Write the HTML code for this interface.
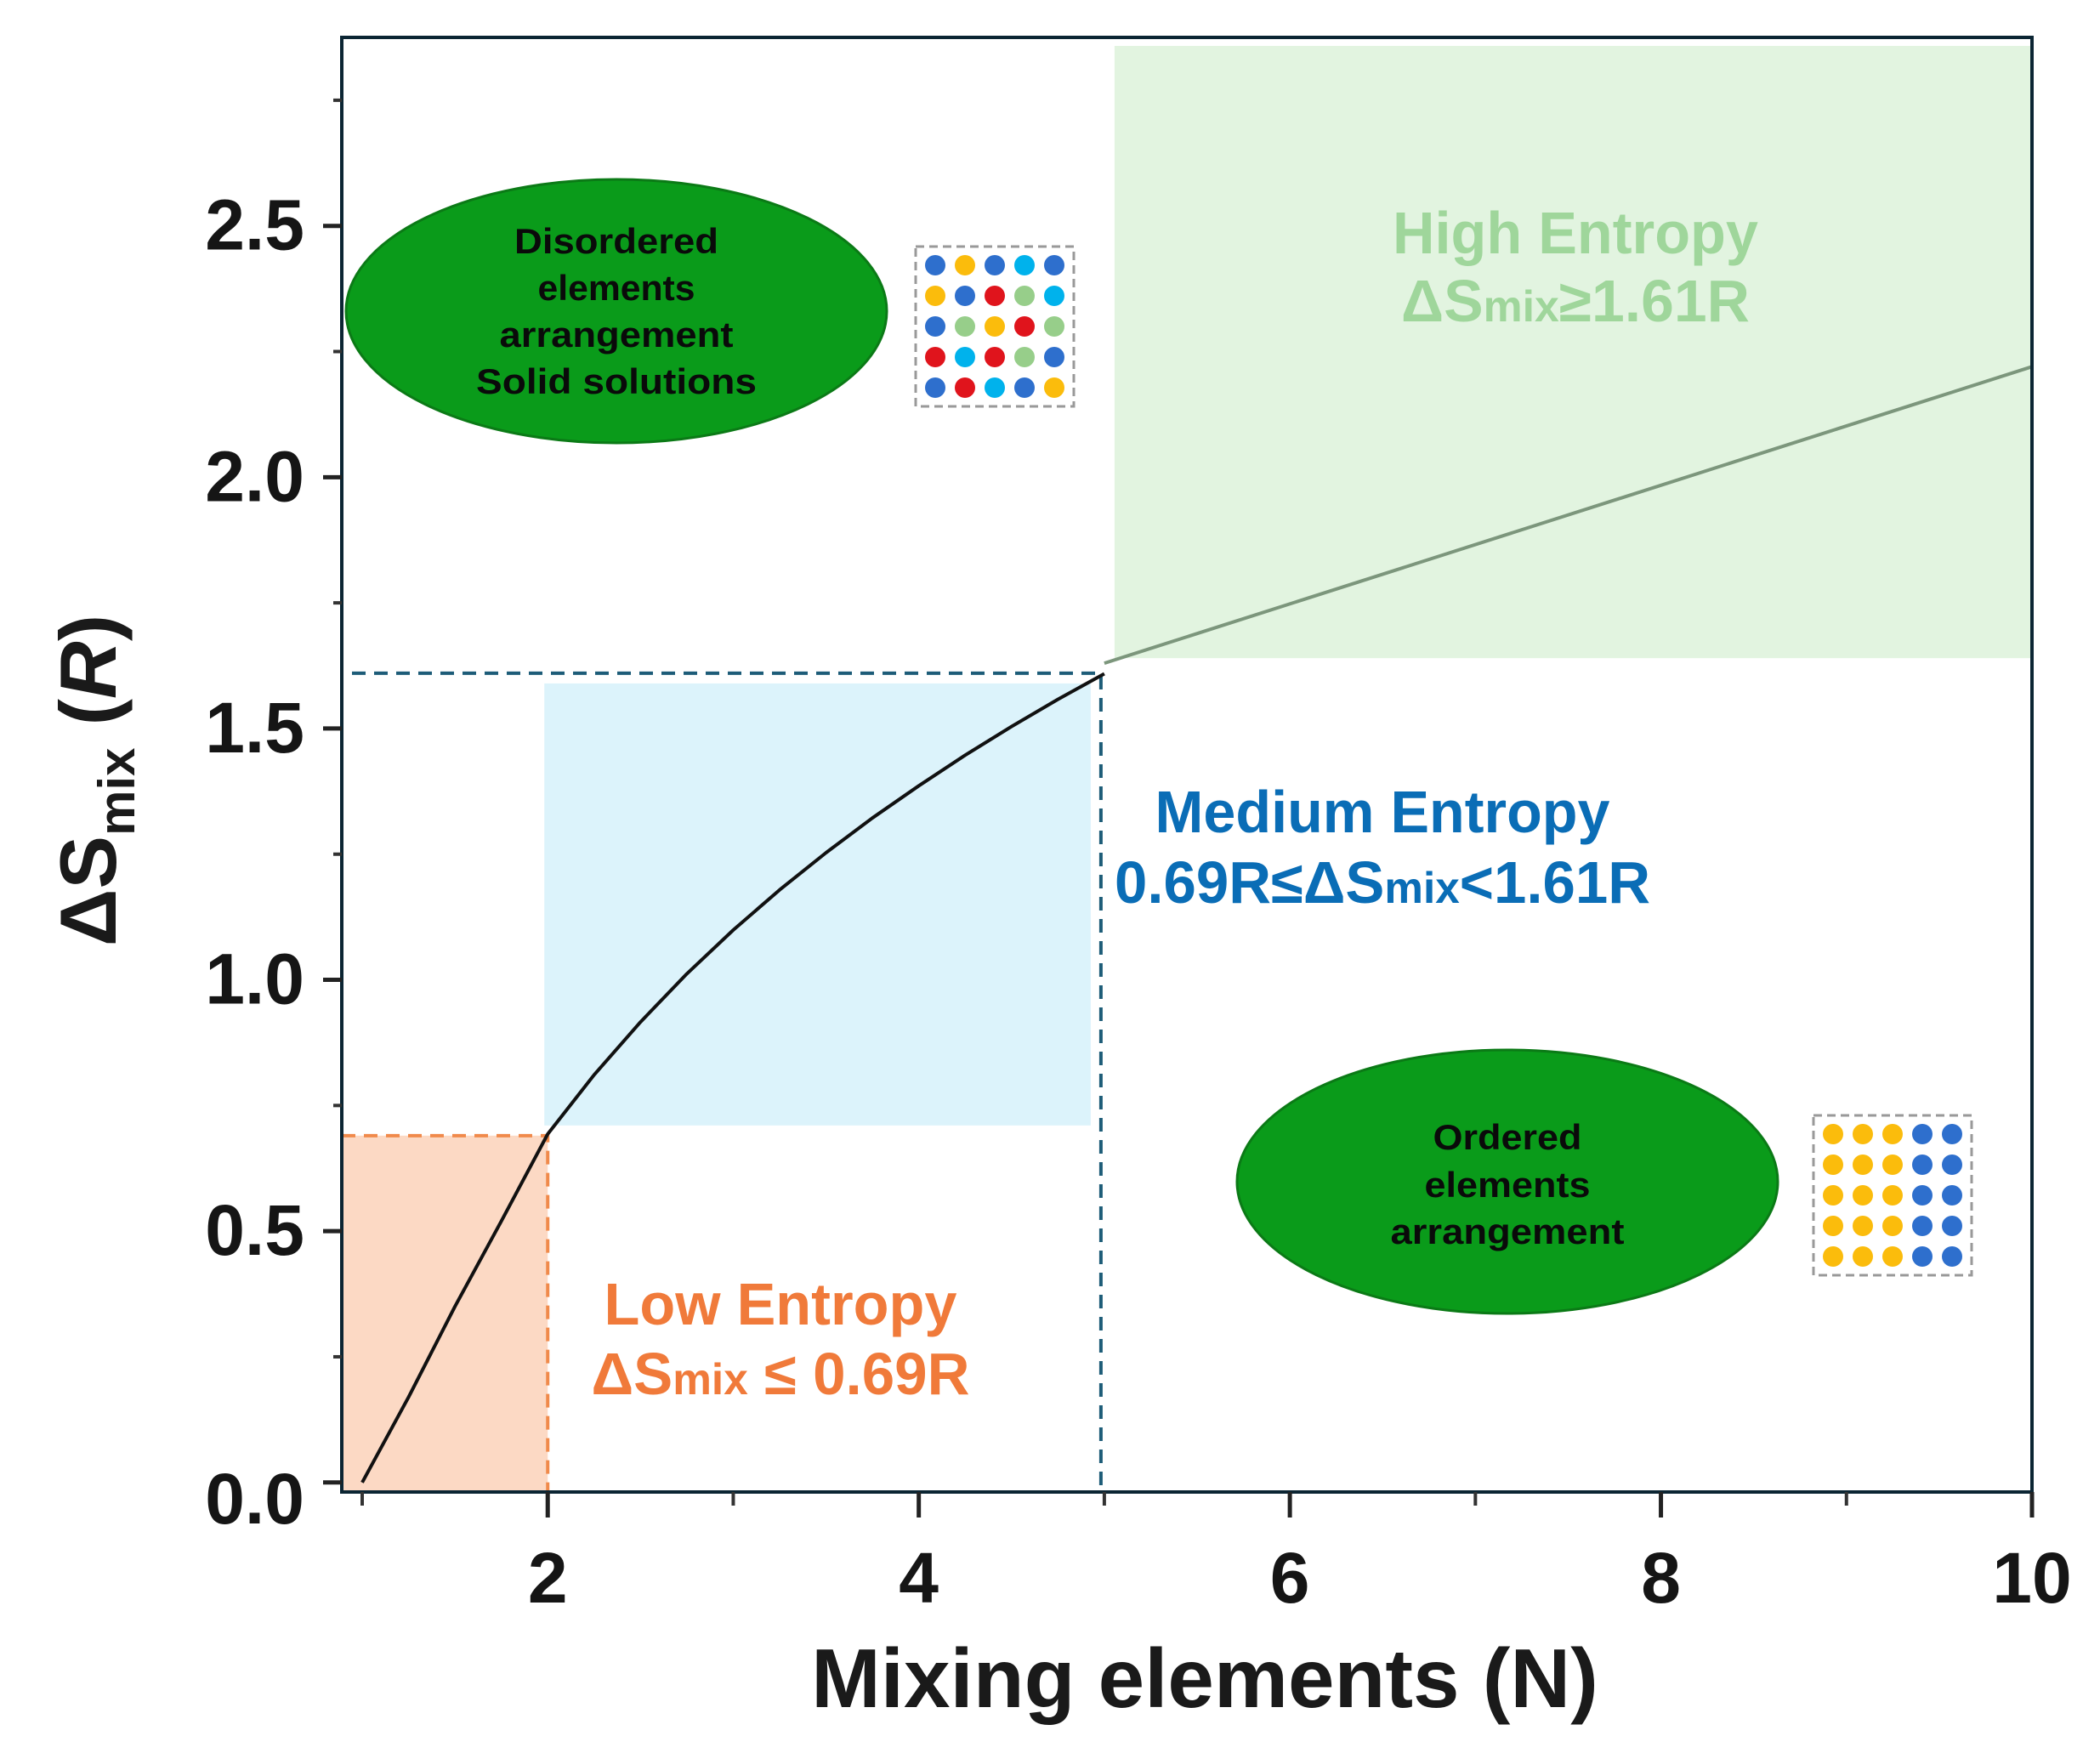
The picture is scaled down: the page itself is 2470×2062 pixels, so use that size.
<!DOCTYPE html>
<html><head><meta charset="utf-8"><style>
html,body{margin:0;padding:0;background:#fff;}
svg{display:block;font-family:"Liberation Sans",sans-serif;}
</style></head>
<body>
<svg id="chart" width="2470" height="2062" viewBox="0 0 2470 2062" xmlns="http://www.w3.org/2000/svg">
<g id="regions"></g>
<g id="guides"></g>
<g id="curves"></g>
<g id="axes"></g>
<g id="labels"></g>
</svg>
<script>
const curveN = [1, 1.25, 1.5, 1.75, 2, 2.25, 2.5, 2.75, 3, 3.25, 3.5, 3.75, 4, 4.25, 4.5, 4.75, 5];
const curveS = [0, 0.17, 0.35, 0.52, 0.693, 0.811, 0.916, 1.012, 1.099, 1.179, 1.253, 1.322, 1.386, 1.447, 1.504, 1.558, 1.609];
const extN = [5, 10];
const extS = [1.63, 2.22];
const xTicks = [2, 4, 6, 8, 10];
const xMinor = [1, 3, 5, 7, 9];
const yTicks = [0, 0.5, 1.0, 1.5, 2.0, 2.5];
const yTickLabels = ["0.0", "0.5", "1.0", "1.5", "2.0", "2.5"];
const yMinor = [0.25, 0.75, 1.25, 1.75, 2.25, 2.75];
const lowMax = 0.69;
const highMin = 1.61;
const lowN = 2;
const highN = 5;

const X0 = 0.89, X1 = 10, Y0 = -0.019, Y1 = 2.875;
const L = 402, R = 2390, T = 44, B = 1755;
function xs(n){ return L + (n - X0) / (X1 - X0) * (R - L); }
function ys(s){ return B - (s - Y0) / (Y1 - Y0) * (B - T); }
const NS = "http://www.w3.org/2000/svg";
function mk(tag, attrs, parent){
  const e = document.createElementNS(NS, tag);
  for (const k in attrs) e.setAttribute(k, attrs[k]);
  parent.appendChild(e); return e;
}
const gR = document.getElementById('regions');
const gG = document.getElementById('guides');
const gC = document.getElementById('curves');
const gA = document.getElementById('axes');

let r;
r = mk('rect', {x: L, y: ys(lowMax), width: xs(lowN) - L, height: B - ys(lowMax), fill: '#fcd9c4'}, gR);


r = mk('rect', {x: xs(lowN) - 4, y: ys(highMin) + 12, width: xs(highN) - xs(lowN) - 12, height: ys(lowMax) - ys(highMin) - 24, fill: '#dcf3fb'}, gR);


r = mk('rect', {x: xs(highN) + 12, y: T + 10, width: R - xs(highN) - 12, height: ys(highMin + 0.03) - T - 10, fill: '#e2f4e0'}, gR);



let ln;
ln = mk('path', {d: `M${L} ${ys(lowMax)} H${xs(lowN)} V${B}`, stroke: '#f08a4b', 'stroke-width': 4, 'stroke-dasharray': '16 10', fill: 'none'}, gG);


ln = mk('path', {d: `M${L + 12} ${ys(highMin)} H${xs(highN) - 4} V${B}`, stroke: '#1d5c78', 'stroke-width': 4, 'stroke-dasharray': '16 10', fill: 'none'}, gG);



let d = curveN.map((n, i) => (i ? 'L' : 'M') + xs(n).toFixed(1) + ' ' + ys(curveS[i]).toFixed(1)).join(' ');
let c = mk('path', {d: d, stroke: '#111', 'stroke-width': 4, fill: 'none', 'stroke-linejoin': 'round'}, gC);


d = extN.map((n, i) => (i ? 'L' : 'M') + xs(n).toFixed(1) + ' ' + ys(extS[i]).toFixed(1)).join(' ');
c = mk('path', {d: d, stroke: '#7c967c', 'stroke-width': 4, fill: 'none'}, gC);



let f = mk('rect', {x: L, y: T, width: R - L, height: B - T, fill: 'none', stroke: '#0b2533', 'stroke-width': 4}, gA);



xTicks.forEach((n) => {
  let t = mk('line', {x1: xs(n), x2: xs(n), y1: B, y2: B + 30, stroke: '#222', 'stroke-width': 5}, gA);
  
  
  let tx = mk('text', {x: xs(n), y: B + 130, 'text-anchor': 'middle', 'font-size': 84, 'font-weight': 'bold', fill: '#151515'}, gA);
  tx.textContent = String(n);
  
  
});
xMinor.forEach((n) => {
  let t = mk('line', {x1: xs(n), x2: xs(n), y1: B, y2: B + 16, stroke: '#333', 'stroke-width': 4}, gA);
  
  
});
yTicks.forEach((s, i) => {
  let t = mk('line', {x1: L - 22, x2: L, y1: ys(s), y2: ys(s), stroke: '#222', 'stroke-width': 5}, gA);
  
  
  let tx = mk('text', {x: L - 44, y: ys(s) + 28 - (i === 0 ? -20 : 0), 'text-anchor': 'end', 'font-size': 84, 'font-weight': 'bold', fill: '#151515'}, gA);
  tx.textContent = yTickLabels[i];
  
  
});
yMinor.forEach((s) => {
  let t = mk('line', {x1: L - 10, x2: L, y1: ys(s), y2: ys(s), stroke: '#333', 'stroke-width': 4}, gA);
  
  
});
</script>
<script>
(function(){
const NS = "http://www.w3.org/2000/svg";
const gL = document.getElementById('labels');
function mk(tag, attrs, parent){
  const e = document.createElementNS(NS, tag);
  for (const k in attrs) e.setAttribute(k, attrs[k]);
  parent.appendChild(e); return e;
}
let t = mk('text', {x: 1417, y: 2008, 'text-anchor': 'middle', 'font-size': 98, 'font-weight': 'bold', fill: '#1a1a1a'}, gL);
t.textContent = 'Mixing elements (N)';


t = mk('text', {x: 0, y: 0, 'text-anchor': 'middle', 'font-size': 94, 'font-weight': 'bold', fill: '#1a1a1a', transform: 'translate(136,918) rotate(-90)'}, gL);
t.innerHTML = 'ΔS<tspan font-size="60" dy="22">mix</tspan><tspan dy="-22"> (</tspan><tspan font-style="italic">R</tspan>)';



function label(lines, x, ys, size, color, name, lens){
  lines.forEach((ln, i) => {
    const e = mk('text', {x: x, y: ys[i], 'text-anchor': 'middle', 'font-size': size, 'font-weight': 'bold', fill: color}, gL);
    if (lens && lens[i]) { e.setAttribute('textLength', lens[i]); e.setAttribute('lengthAdjust', 'spacingAndGlyphs'); }
    e.innerHTML = ln;
    
    
  });
}
const sub = (s) => `<tspan font-size="52">${s}</tspan>`;
label(['High Entropy', 'ΔS' + sub('mix') + '≥1.61R'], 1853, [298, 378], 70, '#9fd69b', 'high-entropy-label', [430, 410]);
label(['Medium Entropy', '0.69R≤ΔS' + sub('mix') + '&lt;1.61R'], 1626, [979, 1062], 70, '#0a6db6', 'medium-entropy-label', [535, 630]);
label(['Low Entropy', 'ΔS' + sub('mix') + ' ≤ 0.69R'], 918, [1558, 1640], 70, '#f07a3a', 'low-entropy-label', [415, 445]);

function ell(cx, cy, lines, ys, name, lens){
  const e = mk('ellipse', {cx: cx, cy: cy, rx: 318, ry: 155, fill: '#0a9b1a', stroke: '#0b7a16', 'stroke-width': 3}, gL);
  
  
  label(lines, cx, ys, 42, '#0a0a0a', name + '-text', lens);
}
ell(725, 366, ['Disordered', 'elements', 'arrangement', 'Solid solutions'], [298, 353, 408, 463], 'disordered-ellipse', [240, 185, 275, 330]);
ell(1773, 1390, ['Ordered', 'elements', 'arrangement'], [1352, 1408, 1463], 'ordered-ellipse', [175, 195, 275]);

function grid(x0, y0, colors, name){
  const g = mk('g', {}, gL);
  
  
  mk('rect', {x: x0, y: y0, width: 186, height: 188, fill: 'none', stroke: '#999', 'stroke-width': 3, 'stroke-dasharray': '10 6'}, g);
  colors.forEach((row, ri) => row.forEach((col, ci) => {
    mk('circle', {cx: x0 + 23 + ci * 35, cy: y0 + 22 + ri * 36, r: 12, fill: col}, g);
  }));
}
const B_ = '#2e6fcd', Y_ = '#fbbc0c', C_ = '#00b2ec', R_ = '#e0141c', G_ = '#97ce8a';
grid(1077, 290, [[B_,Y_,B_,C_,B_],[Y_,B_,R_,G_,C_],[B_,G_,Y_,R_,G_],[R_,C_,R_,G_,B_],[B_,R_,C_,B_,Y_]], 'disordered-lattice');
grid(2133, 1312, [[Y_,Y_,Y_,B_,B_],[Y_,Y_,Y_,B_,B_],[Y_,Y_,Y_,B_,B_],[Y_,Y_,Y_,B_,B_],[Y_,Y_,Y_,B_,B_]], 'ordered-lattice');
})();
</script>
</body></html>
